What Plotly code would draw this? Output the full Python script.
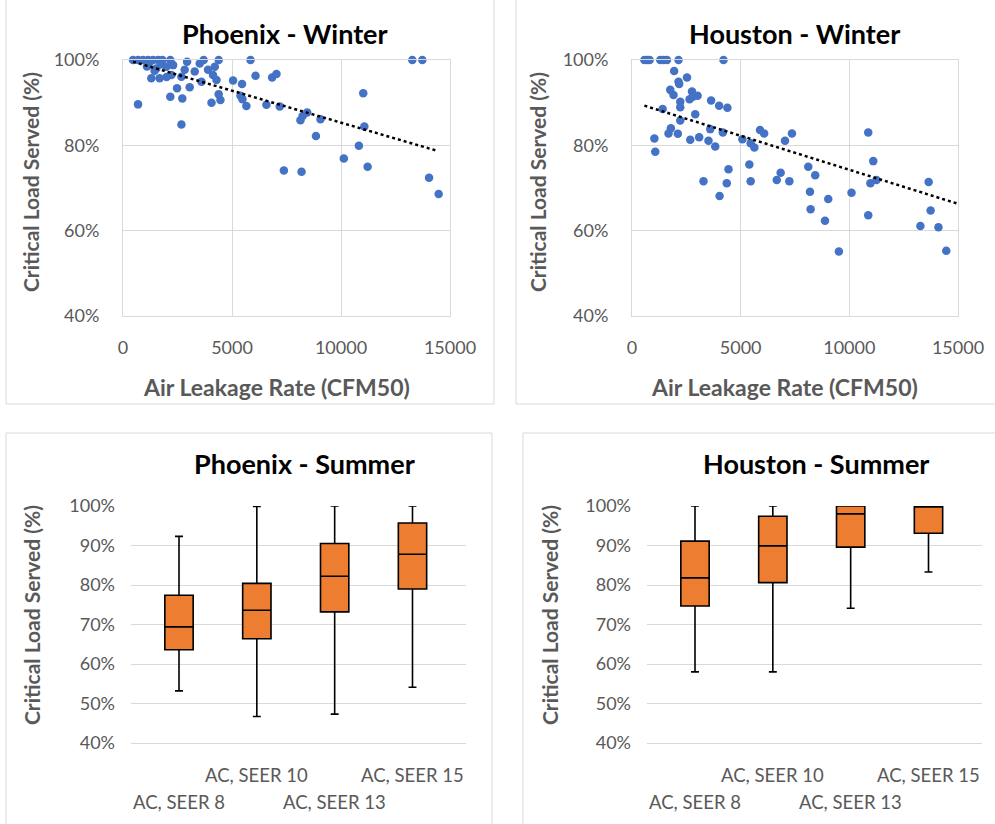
import numpy as np
import plotly.graph_objects as go

# ---------------- DATA ----------------
phx_w_x = [460, 690, 920, 1150, 1380, 1610, 1810, 2170, 2940, 3700, 4390, 5850, 13270, 13730,
           690, 1300, 1530, 1680, 1990, 2170, 2220, 2480, 2680, 2720, 2680, 2830, 3060, 3290,
           3520, 3600, 3900, 4130, 4210, 4060, 4290, 4390, 4470, 5050, 5460, 5390, 5480, 5660,
           6080, 6580, 6840, 7040, 7190, 7380, 8140, 8240, 8450, 8190, 8850, 9060, 10130, 10820,
           11020, 11070, 11220, 14040, 14480, 1100, 1450, 1750, 2000, 1200, 2300]
phx_w_y = [100, 100, 100, 100, 100, 100, 100, 100, 99.6, 100, 100, 100, 100, 100,
           89.6, 95.7, 98.0, 95.7, 98.4, 91.4, 96.5, 93.4, 96.1, 91.0, 84.9, 97.7, 93.6, 97.3,
           99.2, 94.9, 97.7, 96.5, 98.4, 90.0, 95.3, 92.0, 90.6, 95.2, 94.4, 91.6, 90.8, 89.2,
           96.3, 89.5, 95.9, 96.7, 89.1, 74.1, 85.9, 86.9, 87.7, 73.8, 82.2, 86.1, 76.9, 79.9,
           92.2, 84.4, 75.0, 72.4, 68.6, 98.5, 97.5, 99.0, 96.0, 99.3, 98.8]
# linear trendline (start / end)
phx_trend_x = [460, 14390]
phx_trend_y = [99.6, 78.75]

hou_w_x = [570, 690, 810, 1300, 1450, 1610, 2140, 4210, 1940, 2530, 2140, 2170, 1760, 1910,
           2220, 2220, 2760, 2650, 2800, 3020, 2910, 3640, 4010, 4390, 1410, 1790, 1680, 2110,
           2220, 1030, 1070, 2680, 3090, 3520, 3600, 3830, 4180, 3290, 4030, 4360, 4440, 5080,
           5400, 5460, 5460, 5630, 5890, 6080, 6660, 6840, 7040, 7240, 7360, 8110, 8190, 8220,
           8430, 8880, 9030, 9520, 10100, 10870, 10870, 11100, 10970, 11250, 13270, 13650,
           13740, 14100, 14460]
hou_w_y = [100, 100, 100, 100, 100, 100, 100, 100, 97.4, 95.9, 94.9, 94.4, 93.0, 91.8,
           90.2, 88.9, 92.6, 90.8, 91.4, 91.6, 87.3, 90.5, 89.3, 88.8, 88.5, 84.0, 82.8, 82.7,
           85.8, 81.6, 78.5, 81.3, 81.9, 81.1, 83.8, 79.7, 83.0, 71.6, 68.1, 71.1, 74.4, 81.4,
           75.5, 71.6, 80.5, 79.5, 83.6, 82.8, 71.9, 73.6, 81.1, 71.6, 82.8, 75.0, 69.1, 65.0,
           73.0, 62.3, 67.4, 55.1, 68.9, 83.0, 63.6, 76.3, 71.1, 71.9, 61.1, 71.4,
           64.7, 60.8, 55.3]
hou_trend_x = [570, 15000]
hou_trend_y = [89.3, 66.3]

categories = ["AC, SEER 8", "AC, SEER 10", "AC, SEER 13", "AC, SEER 15"]

phx_s_low = [53.2, 46.7, 47.3, 54.1]
phx_s_q1 = [63.6, 66.4, 73.2, 79.0]
phx_s_med = [69.4, 73.6, 82.2, 87.8]
phx_s_q3 = [77.4, 80.4, 90.5, 95.7]
phx_s_high = [92.3, 99.9, 100.0, 100.0]

hou_s_low = [58.0, 58.0, 74.1, 83.3]
hou_s_q1 = [74.7, 80.6, 89.6, 93.1]
hou_s_med = [81.8, 89.9, 98.0, 100.0]
hou_s_q3 = [91.1, 97.4, 100.0, 100.0]
hou_s_high = [100.0, 100.0, 100.0, 100.0]

x_ticks = [0, 5000, 10000, 15000]
y_ticks_winter = [40, 60, 80, 100]
y_ticks_summer = [40, 50, 60, 70, 80, 90, 100]

titles = ["Phoenix - Winter", "Houston - Winter", "Phoenix - Summer", "Houston - Summer"]
y_title = "Critical Load Served (%)"
x_title = "Air Leakage Rate (CFM50)"

# ---------------- STYLE ----------------
W, H = 995, 824
FONT = "Lato"
GRAY = "#595959"
GRID = "#d9d9d9"
BLUE = "#4472C4"
ORANGE = "#ED7D31"


def px(x):
    return x / W


def py(y):
    return 1 - y / H


fig = go.Figure()

# Scatter panels
for i, (xs, ys, tx, ty) in enumerate([(phx_w_x, phx_w_y, phx_trend_x, phx_trend_y),
                                      (hou_w_x, hou_w_y, hou_trend_x, hou_trend_y)]):
    ax = "" if i == 0 else "2"
    fig.add_trace(go.Scatter(x=xs, y=ys, mode="markers", xaxis="x" + ax, yaxis="y" + ax,
                             marker=dict(color=BLUE, size=8.5), cliponaxis=False,
                             showlegend=False))
    fig.add_trace(go.Scatter(x=tx, y=ty, mode="lines", xaxis="x" + ax, yaxis="y" + ax,
                             line=dict(color="black", width=2.5, dash="dot"),
                             showlegend=False))

# Box panels
for i, (lo, q1, med, q3, hi) in enumerate([
        (phx_s_low, phx_s_q1, phx_s_med, phx_s_q3, phx_s_high),
        (hou_s_low, hou_s_q1, hou_s_med, hou_s_q3, hou_s_high)]):
    ax = str(3 + i)
    fig.add_trace(go.Box(x=categories, q1=q1, median=med, q3=q3, lowerfence=lo, upperfence=hi,
                         xaxis="x" + ax, yaxis="y" + ax, fillcolor=ORANGE,
                         line=dict(color="black", width=1.6), whiskerwidth=0.28,
                         boxpoints=False, showlegend=False, hoverinfo="skip"))

tickfont = dict(family=FONT, size=18, color=GRAY)

sc_x = dict(range=[0, 15000], tickmode="array", tickvals=x_ticks,
            ticktext=[str(v) for v in x_ticks], showgrid=True, gridcolor=GRID,
            zeroline=False, showline=True, mirror=True, linecolor=GRID, linewidth=1,
            tickfont=tickfont, ticks="", ticklabelstandoff=15, automargin=False)
sc_y = dict(range=[40, 100], tickmode="array", tickvals=y_ticks_winter,
            ticktext=["%d%%" % v for v in y_ticks_winter], showgrid=True,
            gridcolor=GRID, zeroline=False, showline=True, mirror=True, linecolor=GRID,
            linewidth=1, tickfont=tickfont, ticks="", ticklabelstandoff=19, automargin=False)
bx_x = dict(showgrid=False, zeroline=False, showline=True, linecolor=GRID, linewidth=1,
            showticklabels=False, ticks="", categoryorder="array", categoryarray=categories,
            automargin=False)
bx_y = dict(range=[40, 100], tickmode="array", tickvals=y_ticks_summer,
            ticktext=["%d%%" % v for v in y_ticks_summer],
            showgrid=True, gridcolor=GRID, zeroline=False, showline=False,
            tickfont=tickfont, ticks="", ticklabelstandoff=15, automargin=False)

top_y = [py(316), py(60)]
bot_y = [py(743), py(506)]

fig.update_layout(
    width=W, height=H, margin=dict(l=0, r=0, t=0, b=0, pad=0), autosize=False,
    paper_bgcolor="white", plot_bgcolor="white", boxgap=0.48, showlegend=False,
    xaxis=dict(domain=[px(123), px(450)], anchor="y", **sc_x),
    yaxis=dict(domain=top_y, anchor="x", **sc_y),
    xaxis2=dict(domain=[px(632), px(958)], anchor="y2", **sc_x),
    yaxis2=dict(domain=top_y, anchor="x2", **sc_y),
    xaxis3=dict(domain=[px(131), px(466)], anchor="y3", **bx_x),
    yaxis3=dict(domain=bot_y, anchor="x3", **bx_y),
    xaxis4=dict(domain=[px(647), px(982)], anchor="y4", **bx_x),
    yaxis4=dict(domain=bot_y, anchor="x4", **bx_y),
)

# Panel borders
for (x0, y0, x1, y1) in [(6, -5, 494, 404), (516, -5, 1000, 404), (6, 433, 492, 830), (523, 433, 1000, 830)]:
    fig.add_shape(type="rect", xref="paper", yref="paper", x0=px(x0), x1=px(x1), y0=py(y0), y1=py(y1),
                  line=dict(color=GRID, width=1), fillcolor="rgba(0,0,0,0)", layer="below")

ann = []
# Titles
for t, (cx, cy) in zip(titles, [(285, 34), (794, 34), (304, 463), (816, 463)]):
    ann.append(dict(text="<b>%s</b>" % t, x=px(cx), y=py(cy), xref="paper", yref="paper",
                    showarrow=False, xanchor="center", yanchor="middle",
                    font=dict(family=FONT, size=27, color="black")))
# Y axis titles
for (cx, cy) in [(30, 182), (537, 182), (31, 615), (549, 615)]:
    ann.append(dict(text="<b>%s</b>" % y_title, x=px(cx), y=py(cy), xref="paper", yref="paper",
                    showarrow=False, textangle=-90, xanchor="center", yanchor="middle",
                    font=dict(family=FONT, size=21, color=GRAY)))
# X axis titles (scatter)
for (cx, cy) in [(276, 387), (784, 387)]:
    ann.append(dict(text="<b>%s</b>" % x_title, x=px(cx), y=py(cy), xref="paper", yref="paper",
                    showarrow=False, xanchor="center", yanchor="middle",
                    font=dict(family=FONT, size=23, color=GRAY)))
# Staggered category labels
for ax in ["x3", "x4"]:
    for j, c in enumerate(categories):
        ann.append(dict(text=c, x=c, xref=ax, y=py(775 if j % 2 else 802), yref="paper",
                        showarrow=False, xanchor="center", yanchor="middle",
                        font=dict(family=FONT, size=18.5, color=GRAY)))
fig.update_layout(annotations=ann)

fig.write_html("out.html", config={"displayModeBar": False},
               post_script="document.body.style.margin='0px';document.body.style.overflow='hidden';")
